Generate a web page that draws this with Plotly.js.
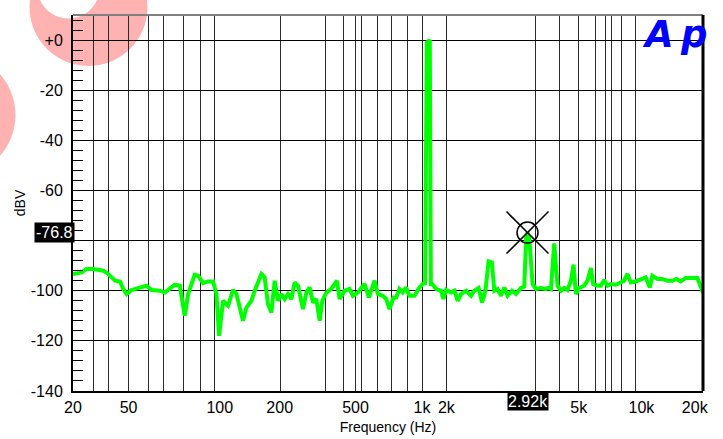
<!DOCTYPE html>
<html>
<head>
<meta charset="utf-8">
<script src="https://cdn.plot.ly/plotly-3.0.1.min.js"></script>
<style>html,body{margin:0;padding:0;background:#fff;}#chart{width:723px;height:439px;}</style>
</head>
<body>
<div id="chart"></div>
<script>
// ---- data ----
const freqHz = [
  20, 22, 23.2, 25, 27.9, 29.4, 31.7, 33.5, 34.7, 36,
  38, 41.6, 44.8, 47.3, 51.8, 54.8, 57.8, 61.1, 64.5, 68.1,
  70.7, 76, 78.8, 83.3, 87.9, 92.9, 96.4, 99.2, 103.7, 109.5,
  115.7, 120, 129, 133.9, 141.5, 146.7, 157.8, 163.6, 169.6, 176.1,
  182.6, 189.3, 196.5, 203.7, 211.1, 219.2, 227.3, 235.8, 249, 258.4,
  267.9, 277.8, 288.3, 298.9, 307.9, 321.7, 339.6, 361.3, 372, 392.9,
  415, 430.3, 454.4, 489, 512.6, 545.6, 565.8, 597.6, 620.3, 643,
  671.8, 691.8, 717.2, 743.6, 771.8, 800.2, 845.5, 893, 925.9, 950,
  968, 1000, 1012, 1026, 1072, 1132, 1161, 1196, 1263, 1310,
  1358, 1409, 1489, 1572, 1630, 1709, 1774, 1839, 1905, 1975,
  2030, 2104, 2184, 2264, 2348, 2464, 2574, 2718, 2818, 2880,
  2920, 2975, 3088, 3204, 3384, 3548, 3678, 3776, 3914, 4060,
  4212, 4368, 4528, 4700, 4836, 4964, 5146, 5436, 5636, 5850,
  5998, 6290, 6526, 6766, 7016, 7282, 7692, 8124, 8422, 8732,
  9064, 9574, 10112, 10682, 11160, 11482, 12126, 12808, 13530, 14290,
  14928, 15664, 16546, 17786, 18790, 19290, 20000
];
const levelDbv = [
  -93.3, -92.7, -91.3, -91.3, -92, -93.3, -96, -96.3, -99.3, -101.3,
  -99.7, -98.7, -98, -99.7, -100, -100.7, -99.3, -97.6, -98, -110,
  -101.3, -93.6, -94, -97, -96.3, -96.3, -101.3, -118, -104, -106,
  -99.7, -101.3, -112, -106.7, -104, -100, -93.3, -94.7, -105.3, -108.7,
  -96, -104, -101.3, -103.3, -101.3, -103.3, -96.7, -98, -107.3, -100.7,
  -98.7, -104.7, -103.3, -112, -104, -100.7, -99.3, -96, -103.3, -100,
  -99.3, -102, -100.7, -97.3, -102.7, -96, -101.3, -102, -103.3, -107.3,
  -102.7, -102.7, -99.3, -100.7, -98.7, -102, -102, -98.7, -97.3, -97,
  -1, 0, -97.3, -97.3, -99.3, -100, -103.3, -99.7, -100.7, -100,
  -104, -101.3, -100, -102, -100, -98.9, -104.7, -100.3, -88.3, -88.7,
  -100, -99.3, -102, -98.7, -102, -100, -101.3, -98.9, -98.4, -78,
  -76.8, -78.7, -97.3, -99.3, -98.9, -99.3, -98.9, -99.3, -81.1, -98,
  -100, -98.9, -99.7, -96, -89.6, -101.3, -98.9, -98, -96, -90.9,
  -97.3, -98, -98, -95.7, -98, -97.3, -97.6, -96.7, -96, -93.3,
  -96.7, -96.3, -95.7, -94.7, -98.7, -94, -95.3, -95.3, -96, -96,
  -95.3, -96.3, -94.9, -94.9, -94.9, -97.3, -100.7
];
// vertical grid line frequencies (as drawn in the reference)
const gridFreqs = [25, 29.4, 36.9, 45.6, 54.2, 67.4, 80.9, 94.7, 195, 318, 390, 442, 475, 566, 655, 786, 926, 1196, 3170, 4166, 5108, 6182, 6896, 7362, 8214, 9572];
// x tick label positions and texts
const xLabelFreqs = [20, 36.8, 100, 192.9, 443, 918, 1200, 5118, 10178, 18264];
const xLabelText = ['20', '50', '100', '200', '500', '1k', '2k', '5k', '10k', '20k'];
// y ticks
const yTickVals = [-140, -120, -100, -80, -60, -40, -20, 0];
const yTickText = ['-140', '-120', '-100', '', '-60', '-40', '-20', '+0'];
// cursor
const cursorFreq = 2920;
const cursorLevel = -76.8;
const cursorFreqText = '2.92k';
const cursorLevelText = '-76.8';

// ---- layout geometry helpers (decoration only) ----
const L = 73, R = 703, T = 15, B = 391;
const W = R - L, H = B - T;
function px2paper(X, Y) { return [(X - L) / W, (B - Y) / H]; }
function circlePath(cx, cy, r, n) {
  let s = '';
  for (let i = 0; i <= n; i++) {
    const a = 2 * Math.PI * i / n;
    const p = px2paper(cx + r * Math.cos(a), cy + r * Math.sin(a));
    s += (i === 0 ? 'M' : 'L') + p[0].toFixed(4) + ',' + p[1].toFixed(4);
  }
  return s + 'Z';
}
const pink = 'rgba(255,0,0,0.3)';

const FONT = 'Liberation Sans, Arial, sans-serif';
const TICKSIZE = 16;

const traces = [
  {
    x: freqHz, y: levelDbv, type: 'scatter', mode: 'lines',
    line: {color: '#00ff00', width: 4},
    xaxis: 'x', yaxis: 'y', hoverinfo: 'skip', showlegend: false
  },
  {
    x: [cursorFreq], y: [cursorLevel], type: 'scatter', mode: 'markers',
    marker: {symbol: 'circle-open', size: 21, color: 'black', line: {width: 1.5, color: 'black'}},
    xaxis: 'x2', yaxis: 'y', hoverinfo: 'skip', showlegend: false
  },
  {
    x: [cursorFreq], y: [cursorLevel], type: 'scatter', mode: 'markers',
    marker: {symbol: 'x-thin-open', size: 42, color: 'black', line: {width: 1.5, color: 'black'}},
    xaxis: 'x2', yaxis: 'y', hoverinfo: 'skip', showlegend: false
  }
];

const xr = [Math.log10(20), Math.log10(20000)];

const layout = {
  width: 723, height: 439,
  margin: {l: L, r: 723 - R, t: T, b: 439 - B},
  paper_bgcolor: 'white',
  plot_bgcolor: 'rgba(0,0,0,0)',
  font: {family: FONT, size: 14, color: 'black'},
  showlegend: false,
  xaxis: {
    type: 'log', range: xr, autorange: false,
    tickmode: 'array', tickvals: gridFreqs, showticklabels: false, ticks: '',
    showgrid: true, gridcolor: '#2a2a2a', gridwidth: 1,
    showline: true, linecolor: 'black', linewidth: 2,
    zeroline: false, fixedrange: true
  },
  xaxis2: {
    type: 'log', range: xr, autorange: false, overlaying: 'x', anchor: 'y', side: 'bottom',
    tickmode: 'array', tickvals: xLabelFreqs, ticktext: xLabelText,
    ticks: 'outside', ticklen: 2, tickcolor: 'rgba(0,0,0,0)',
    showgrid: false, showline: false, zeroline: false,
    tickfont: {family: FONT, size: TICKSIZE, color: 'black'},
    title: {text: 'Frequency (Hz)', font: {family: FONT, size: 14, color: 'black'}, standoff: 6}
  },
  yaxis: {
    range: [-140, 10], autorange: false,
    tickmode: 'array', tickvals: yTickVals, ticktext: yTickText, ticks: '',
    showgrid: true, gridcolor: 'black', gridwidth: 1,
    showline: true, linecolor: 'black', linewidth: 2,
    zeroline: false, fixedrange: true,
    ticklabelstandoff: 5,
    tickfont: {family: FONT, size: TICKSIZE, color: 'black'},
    minor: {tickmode: 'linear', tick0: 0, dtick: 4, ticks: 'inside', ticklen: 10, tickcolor: 'black', tickwidth: 1, showgrid: false},
    title: {text: 'dBV', font: {family: FONT, size: 14, color: 'black'}, standoff: 2}
  },
  shapes: [
    {type: 'path', xref: 'paper', yref: 'paper', layer: 'below', fillrule: 'evenodd',
     path: circlePath(88.5, 7, 59, 72) + circlePath(68.5, -12.7, 31.2, 60),
     fillcolor: pink, line: {width: 0}},
    {type: 'path', xref: 'paper', yref: 'paper', layer: 'below',
     path: circlePath(-46, 115, 61.5, 72),
     fillcolor: pink, line: {width: 0}},
    {type: 'line', xref: 'paper', yref: 'paper', x0: 0, x1: 1, y0: 1, y1: 1, line: {color: '#808080', width: 2}},
    {type: 'line', xref: 'paper', yref: 'paper', x0: 1, x1: 1, y0: 0, y1: 1, line: {color: 'black', width: 3}}
  ],
  annotations: [
    {xref: 'paper', yref: 'y', x: 0, y: cursorLevel, xanchor: 'right', yanchor: 'middle', xshift: 2,
     text: cursorLevelText, showarrow: false, bgcolor: 'black', borderpad: 1,
     font: {family: FONT, size: TICKSIZE, color: 'white'}},
    {xref: 'x', yref: 'paper', x: Math.log10(cursorFreq), y: 0, xanchor: 'center', yanchor: 'top', yshift: -1,
     text: cursorFreqText, showarrow: false, bgcolor: 'black', borderpad: 0,
     font: {family: FONT, size: TICKSIZE, color: 'white'}},
    {xref: 'paper', yref: 'paper', x: 1, y: 1, xanchor: 'right', yanchor: 'top', xshift: 7, yshift: 4,
     text: '<b><i>A\u2009p</i></b>', showarrow: false,
     font: {family: 'DejaVu Sans, sans-serif', size: 37, color: '#0000ff'}}
  ]
};

Plotly.newPlot('chart', traces, layout, {staticPlot: true, displayModeBar: false});
</script>
</body>
</html>
